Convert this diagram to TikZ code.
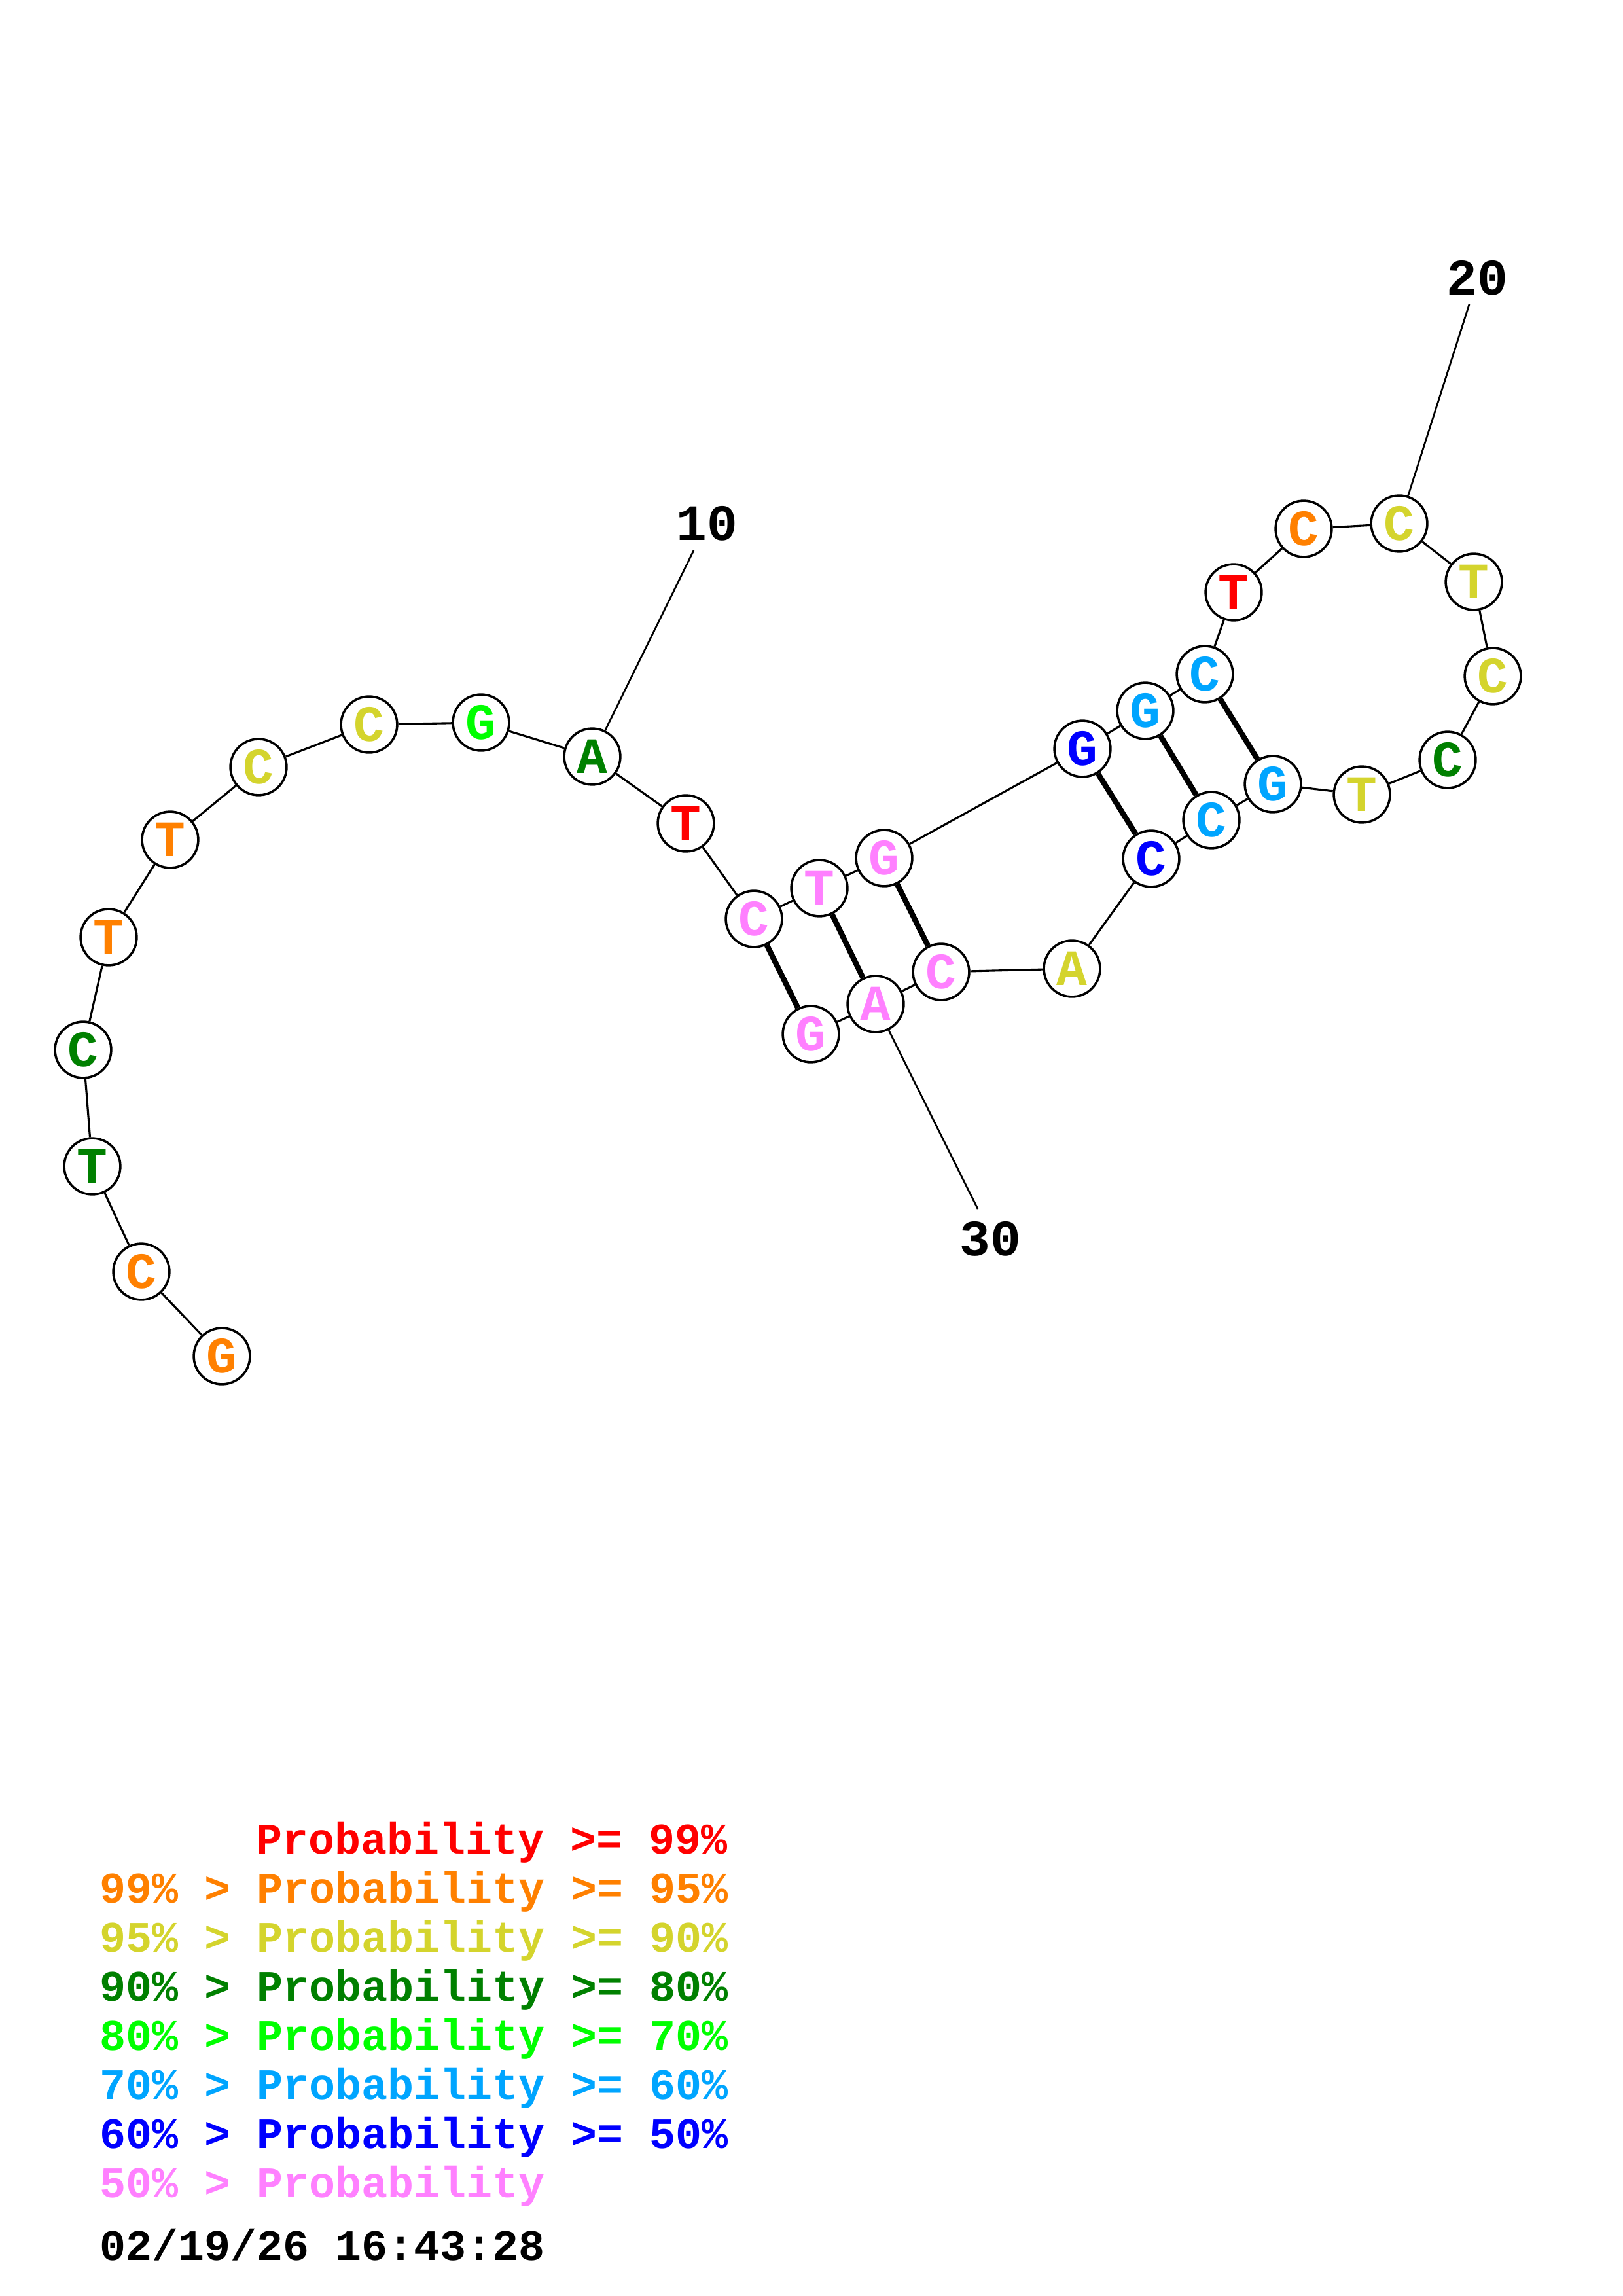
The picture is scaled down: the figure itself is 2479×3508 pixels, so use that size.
\documentclass[tikz,border=0pt]{standalone}
\usepackage{fontspec}
\setmonofont{Liberation Mono}

\definecolor{pred}{RGB}{255,0,0}
\definecolor{porange}{RGB}{255,128,0}
\definecolor{pyellow}{RGB}{212,212,45}
\definecolor{pdkgreen}{RGB}{0,128,0}
\definecolor{plime}{RGB}{0,255,0}
\definecolor{pcyan}{RGB}{0,165,255}
\definecolor{pblue}{RGB}{0,0,255}
\definecolor{ppink}{RGB}{255,128,255}

\begin{document}
\begin{tikzpicture}[x=0.24pt,y=-0.24pt]

\tikzset{
base/.style={circle,draw,line width=0.85pt,fill=white,minimum size=20.6pt,inner sep=0pt,
  font=\fontsize{18.7pt}{20pt}\ttfamily\bfseries},
p99/.style={base,text=pred},
p95/.style={base,text=porange},
p90/.style={base,text=pyellow},
p80/.style={base,text=pdkgreen},
p70/.style={base,text=plime},
p60/.style={base,text=pcyan},
p50/.style={base,text=pblue},
plow/.style={base,text=ppink},
bb/.style={line width=0.75pt},
pair/.style={line width=2pt},
tick/.style={line width=0.65pt},
numlabel/.style={inner sep=0pt,font=\fontsize{18.7pt}{20pt}\ttfamily\bfseries},
legend/.style={anchor=base west,inner sep=0pt,font=\fontsize{16pt}{18pt}\ttfamily\bfseries}
}
\useasboundingbox (0,0) rectangle (2479,3508);

% vertices
\node[p95] (1) at (339,2072) {G};
\node[p95] (2) at (216,1943) {C};
\node[p80] (3) at (141,1782) {T};
\node[p80] (4) at (127,1604) {C};
\node[p95] (5) at (166,1432) {T};
\node[p95] (6) at (260,1283) {T};
\node[p90] (7) at (395,1172) {C};
\node[p90] (8) at (564,1107) {C};
\node[p70] (9) at (735,1104) {G};
\node[p80] (10) at (905,1156) {A};
\node[p99] (11) at (1048,1258) {T};
\node[plow] (12) at (1152,1404) {C};
\node[plow] (13) at (1252,1357) {T};
\node[plow] (14) at (1351,1311) {G};
\node[p50] (15) at (1654,1144) {G};
\node[p60] (16) at (1750,1086) {G};
\node[p60] (17) at (1841,1030) {C};
\node[p99] (18) at (1885,905) {T};
\node[p95] (19) at (1992,808) {C};
\node[p90] (20) at (2138,800) {C};
\node[p90] (21) at (2252,889) {T};
\node[p90] (22) at (2281,1033) {C};
\node[p80] (23) at (2212,1161) {C};
\node[p90] (24) at (2081,1214) {T};
\node[p60] (25) at (1945,1198) {G};
\node[p60] (26) at (1851,1253) {C};
\node[p50] (27) at (1759,1312) {C};
\node[p90] (28) at (1638,1480) {A};
\node[plow] (29) at (1438,1485) {C};
\node[plow] (30) at (1338,1534) {A};
\node[plow] (31) at (1239,1580) {G};

%edges
\foreach \i [evaluate=\i as \j using int(\i+1)] in {1,...,30}
  \draw[bb] (\i) -- (\j);

\path[pair]
(12) edge (31)
(13) edge (30)
(14) edge (29)
(15) edge (27)
(16) edge (26)
(17) edge (25)
;

% numbering
\node[numlabel] (l10) at (1080,800) {10};
\node[numlabel] (l20) at (2257,425) {20};
\node[numlabel] (l30) at (1513,1893) {30};
\coordinate (t10) at (1060,841);
\coordinate (t20) at (2245,465);
\coordinate (t30) at (1494,1847);
\draw[tick] (10) -- (t10);
\draw[tick] (20) -- (t20);
\draw[tick] (30) -- (t30);

% legend
\node[legend,text=pred]     (k1) at (391,2832) {Probability >= 99\%};
\node[legend,text=porange]  (k2) at (152,2907) {99\% > Probability >= 95\%};
\node[legend,text=pyellow]  (k3) at (152,2982) {95\% > Probability >= 90\%};
\node[legend,text=pdkgreen] (k4) at (152,3057) {90\% > Probability >= 80\%};
\node[legend,text=plime]    (k5) at (152,3132) {80\% > Probability >= 70\%};
\node[legend,text=pcyan]    (k6) at (152,3207) {70\% > Probability >= 60\%};
\node[legend,text=pblue]    (k7) at (152,3282) {60\% > Probability >= 50\%};
\node[legend,text=ppink]    (k8) at (152,3357) {50\% > Probability};
\node[legend]               (date) at (152,3453) {02/19/26 16:43:28};

\end{tikzpicture}
\end{document}
